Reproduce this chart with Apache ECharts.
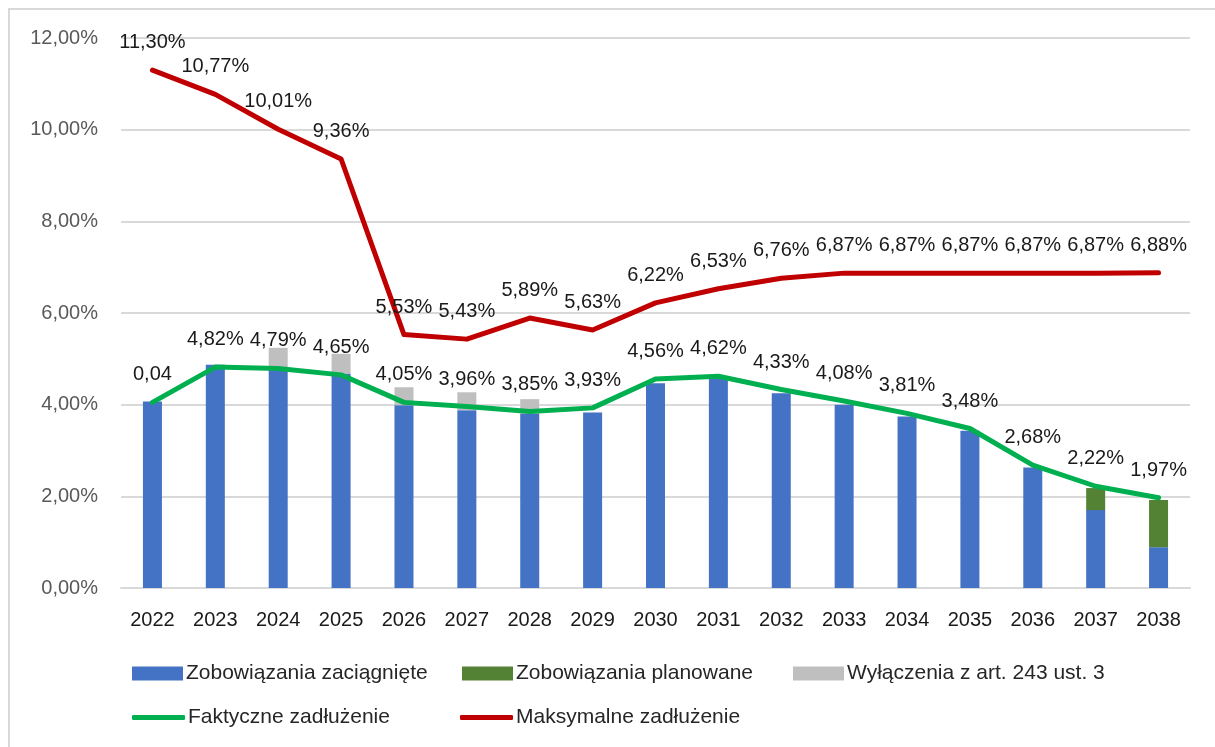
<!DOCTYPE html>
<html>
<head>
<meta charset="utf-8">
<script src="https://cdn.jsdelivr.net/npm/echarts@6/dist/echarts.min.js"></script>
<style>
  html, body { margin: 0; padding: 0; background: #fff; }
  #main { width: 1215px; height: 747px; }
</style>
</head>
<body>
<div id="main"></div>
<script>
var lata = ['2022','2023','2024','2025','2026','2027','2028','2029','2030','2031','2032','2033','2034','2035','2036','2037','2038'];
// slupki (stos)
var zaciagniete = [4.07, 4.87, 4.78, 4.68, 3.99, 3.88, 3.81, 3.83, 4.47, 4.58, 4.25, 4.00, 3.74, 3.43, 2.63, 1.70, 0.89];
var planowane   = [null, null, null, null, null, null, null, null, null, null, null, null, null, null, null, 0.48, 1.03];
var wylaczenia  = [null, null, 0.46, 0.43, 0.39, 0.39, 0.31, null, null, null, null, null, null, null, null, null, null];
// linie
var faktyczne   = [4.05, 4.82, 4.79, 4.65, 4.05, 3.96, 3.85, 3.93, 4.56, 4.62, 4.33, 4.08, 3.81, 3.48, 2.68, 2.22, 1.97];
var faktyczneEtykiety = ['0,04','4,82%','4,79%','4,65%','4,05%','3,96%','3,85%','3,93%','4,56%','4,62%','4,33%','4,08%','3,81%','3,48%','2,68%','2,22%','1,97%'];
var maksymalne  = [11.30, 10.77, 10.01, 9.36, 5.53, 5.43, 5.89, 5.63, 6.22, 6.53, 6.76, 6.87, 6.87, 6.87, 6.87, 6.87, 6.88];

var font = 'Liberation Sans, Arial, sans-serif';
function pct(v) { return v.toFixed(2).replace('.', ',') + '%'; }

var myChart = echarts.init(document.getElementById('main'));

function leg(name, left, top, isLine) {
    return {
        data: [name],
        left: left,
        top: top,
        icon: isLine ? 'roundRect' : 'rect',
        itemWidth: isLine ? 53 : 51,
        itemHeight: isLine ? 5 : 14,
        itemGap: 0,
        textStyle: { fontFamily: font, fontSize: 21, color: '#262626', padding: [0, 0, 0, -2] }
    };
}

var option = {
    animation: false,
    textStyle: { fontFamily: font },
    grid: { left: 121, right: 25, top: 38, bottom: 159 },
    graphic: [{
        type: 'rect',
        shape: { x: 9, y: 9, width: 1400, height: 900 },
        style: { fill: 'none', stroke: '#d9d9d9', lineWidth: 2 },
        silent: true
    }],
    legend: [
        leg('Zobowiązania zaciągnięte', 127, 658, false),
        leg('Zobowiązania planowane', 457, 658, false),
        leg('Wyłączenia z art. 243 ust. 3', 788, 658, false),
        leg('Faktyczne zadłużenie', 127, 702, true),
        leg('Maksymalne zadłużenie', 455, 702, true)
    ],
    xAxis: {
        type: 'category',
        data: lata,
        axisLine: { lineStyle: { color: '#d9d9d9', width: 2 } },
        axisTick: { show: false },
        axisLabel: { fontFamily: font, fontSize: 20, color: '#1a1a1a', margin: 22 }
    },
    yAxis: {
        type: 'value',
        min: 0,
        max: 12,
        interval: 2,
        axisLine: { show: false },
        axisTick: { show: false },
        splitLine: { lineStyle: { color: '#d9d9d9', width: 2 } },
        axisLabel: { fontFamily: font, fontSize: 20, color: '#595959', margin: 23, formatter: pct }
    },
    series: [
        {
            name: 'Zobowiązania zaciągnięte', type: 'bar', stack: 'a', barWidth: 19,
            itemStyle: { color: '#4472c4' }, data: zaciagniete
        },
        {
            name: 'Zobowiązania planowane', type: 'bar', stack: 'a', barWidth: 19,
            itemStyle: { color: '#548235' }, data: planowane
        },
        {
            name: 'Wyłączenia z art. 243 ust. 3', type: 'bar', stack: 'a', barWidth: 19,
            itemStyle: { color: '#bfbfbf' }, data: wylaczenia
        },
        {
            name: 'Faktyczne zadłużenie', type: 'line', symbol: 'circle', symbolSize: 1, showSymbol: true, z: 5,
            lineStyle: { color: '#00b050', width: 5, join: 'round', cap: 'round' },
            itemStyle: { color: '#00b050' },
            label: {
                show: true, position: 'top', distance: 17,
                fontFamily: font, fontSize: 20, color: '#1a1a1a',
                formatter: function (p) { return faktyczneEtykiety[p.dataIndex]; }
            },
            data: faktyczne
        },
        {
            name: 'Maksymalne zadłużenie', type: 'line', symbol: 'circle', symbolSize: 1, showSymbol: true, z: 5,
            lineStyle: { color: '#c00000', width: 5, join: 'round', cap: 'round' },
            itemStyle: { color: '#c00000' },
            label: {
                show: true, position: 'top', distance: 17,
                fontFamily: font, fontSize: 20, color: '#1a1a1a',
                formatter: function (p) { return pct(p.value); }
            },
            data: maksymalne
        }
    ]
};

myChart.setOption(option);
</script>
</body>
</html>
